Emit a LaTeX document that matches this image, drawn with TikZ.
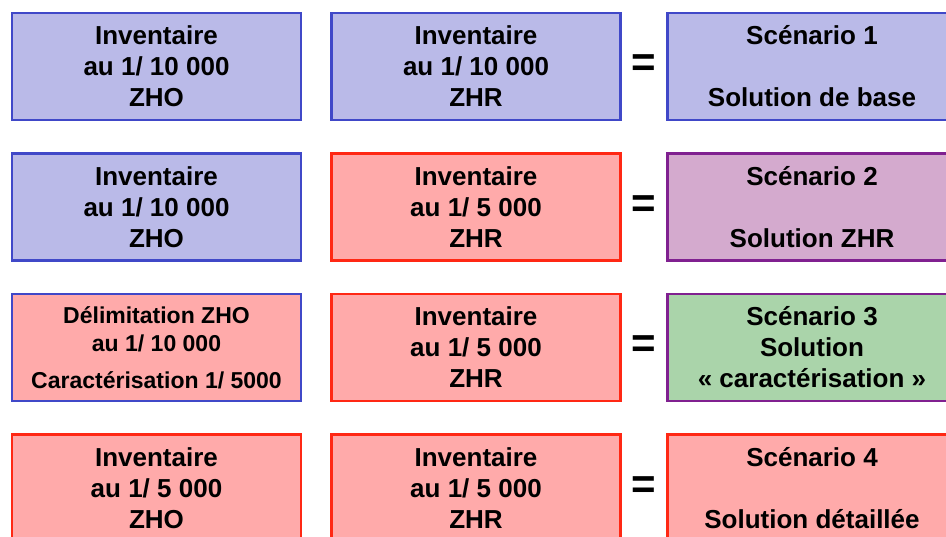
\documentclass[tikz,border=0pt]{standalone}
\usepackage{fontspec}
\setmainfont{Liberation Sans}

\definecolor{bluefill}{RGB}{186,186,232}
\definecolor{blueline}{RGB}{64,72,200}
\definecolor{redfill}{RGB}{255,170,170}
\definecolor{redline}{RGB}{255,40,20}
\definecolor{mauvefill}{RGB}{212,170,206}
\definecolor{purpleline}{RGB}{128,32,144}
\definecolor{greenfill}{RGB}{170,212,170}

\begin{document}
\begin{tikzpicture}[x=1pt,y=-1pt,
	box/.style={rectangle, draw, line width=2.5pt, minimum width=289pt, minimum height=107pt,
		align=center, font=\fontsize{26}{31}\selectfont\bfseries, inner sep=0pt,
		execute at begin node={\rule{0pt}{31pt}}},
	bluebox/.style={box, fill=bluefill, draw=blueline},
	redbox/.style={box, fill=redfill, draw=redline},
	eqsign/.style={font=\fontsize{42}{42}\selectfont\bfseries, inner sep=0pt}]
	\useasboundingbox (0,0) rectangle (946,537);
	\clip (0,0) rectangle (946,537);

	% row 1
	\draw (156.5,66.5) node[bluebox] (zho1) {Inventaire\\au 1/ 10 000\\ZHO};
	\draw (476,66.5) node[bluebox] (zhr1) {Inventaire\\au 1/ 10 000\\ZHR};
	\draw (643.5,66) node[eqsign] (eq1) {=};
	\draw (812,66.5) node[bluebox] (scen1) {Scénario 1\\~\\Solution de base};

	% row 2
	\draw (156.5,207) node[bluebox] (zho2) {Inventaire\\au 1/ 10 000\\ZHO};
	\draw (476,207) node[redbox] (zhr2) {Inventaire\\au 1/ 5 000\\ZHR};
	\draw (643.5,206.5) node[eqsign] (eq2) {=};
	\draw (812,207) node[box, fill=mauvefill, draw=purpleline] (scen2) {Scénario 2\\~\\Solution ZHR};

	% row 3
	\draw (156.5,347.5) node[redbox, draw=blueline, font=\fontsize{23}{28}\selectfont\bfseries,
		execute at begin node={}] (zho3)
		{Délimitation ZHO\\au 1/ 10 000\\[9pt]Caractérisation 1/ 5000};
	\draw (476,347.5) node[redbox] (zhr3) {Inventaire\\au 1/ 5 000\\ZHR};
	\draw (643.5,347) node[eqsign] (eq3) {=};
	\draw (812,347.5) node[box, fill=greenfill, draw=purpleline] (scen3) {Scénario 3\\Solution\\« caractérisation »};

	% row 4
	\draw (156.5,488) node[redbox] (zho4) {Inventaire\\au 1/ 5 000\\ZHO};
	\draw (476,488) node[redbox] (zhr4) {Inventaire\\au 1/ 5 000\\ZHR};
	\draw (643.5,487.5) node[eqsign] (eq4) {=};
	\draw (812,488) node[redbox] (scen4) {Scénario 4\\~\\Solution détaillée};
\end{tikzpicture}
\end{document}
